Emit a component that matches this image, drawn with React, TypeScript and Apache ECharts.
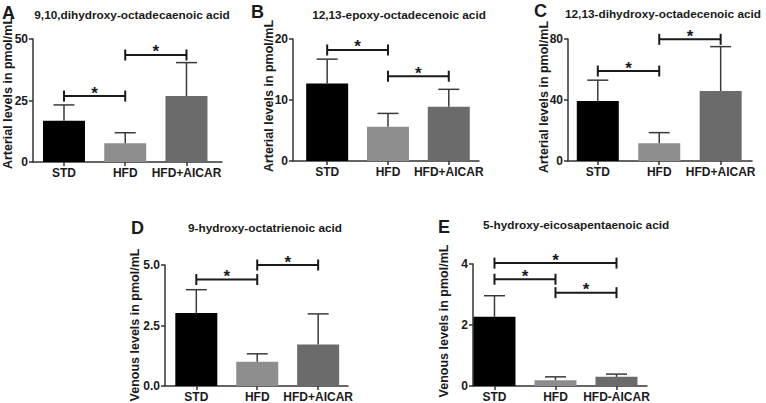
import React, { useEffect, useRef } from "react";
import * as echarts from "echarts";

// ---- data ----
const groupsABCD = ["STD", "HFD", "HFD+AICAR"];
const groupsE = ["STD", "HFD", "HFD-AICAR"];

const meanA = [16.8, 7.6, 26.8];
const errA = [6.4, 4.3, 13.6];
const sigA = [[0, 1, 26.8], [1, 2, 43.5]];

const meanB = [12.7, 5.6, 8.9];
const errB = [4.0, 2.2, 2.85];
const sigB = [[0, 1, 18.2], [1, 2, 13.9]];

const meanC = [39.3, 11.6, 45.9];
const errC = [13.7, 7.0, 29.1];
const sigC = [[0, 1, 59], [1, 2, 79.8]];

const meanD = [3.02, 1.0, 1.72];
const errD = [0.96, 0.33, 1.26];
const sigD = [[0, 1, 4.4], [1, 2, 5.0]];

const meanE = [2.27, 0.19, 0.3];
const errE = [0.69, 0.11, 0.09];
const sigE = [[0, 2, 4.03], [0, 1, 3.5], [1, 2, 3.06]];

const yTicksA = [0, 25, 50];
const yTicksB = [0, 10, 20];
const yTicksC = [0, 40, 80];
const yTicksD = [0, 2.5, 5];
const yTicksE = [0, 2, 4];

const titles = [
  "9,10,dihydroxy-octadecaenoic acid",
  "12,13-epoxy-octadecenoic acid",
  "12,13-dihydroxy-octadecenoic acid",
  "9-hydroxy-octatrienoic acid",
  "5-hydroxy-eicosapentaenoic acid",
];
const letters = ["A", "B", "C", "D", "E"];
const yNames = [
  "Arterial levels in pmol/mL",
  "Arterial levels in pmol/mL",
  "Arterial levels in pmol/mL",
  "Venous levels in pmol/mL",
  "Venous levels in pmol/mL",
];

const barColors = ["#000000", "#8e8e8e", "#6b6b6b"];
const FONT = '"Liberation Sans", Arial, Helvetica, sans-serif';
const INK = "#1a1a1a";

const panels = [
  { cats: groupsABCD, mean: meanA, err: errA, sig: sigA, ticks: yTicksA, dec: 0,
    grid: { left: 33, top: 39, width: 189, height: 123 }, xMin: -0.506, xMax: 2.58,
    letter: { x: 2, y: 13 }, title: { x: 132, y: 15, align: "center" }, yName: { x: 8, y: 93 } },
  { cats: groupsABCD, mean: meanB, err: errB, sig: sigB, ticks: yTicksB, dec: 0,
    grid: { left: 293, top: 39, width: 186, height: 122 }, xMin: -0.562, xMax: 2.497,
    letter: { x: 251, y: 12 }, title: { x: 399, y: 15, align: "center" }, yName: { x: 269, y: 96 } },
  { cats: groupsABCD, mean: meanC, err: errC, sig: sigC, ticks: yTicksC, dec: 0,
    grid: { left: 568, top: 39, width: 184, height: 122 }, xMin: -0.485, xMax: 2.51,
    letter: { x: 534, y: 11 }, title: { x: 663, y: 14, align: "center" }, yName: { x: 544, y: 97 } },
  { cats: groupsABCD, mean: meanD, err: errD, sig: sigD, ticks: yTicksD, dec: 1,
    grid: { left: 165, top: 265, width: 183, height: 122 }, xMin: -0.514, xMax: 2.49,
    letter: { x: 131, y: 228 }, title: { x: 265, y: 228, align: "center" }, yName: { x: 135, y: 325 } },
  { cats: groupsE, mean: meanE, err: errE, sig: sigE, ticks: yTicksE, dec: 0,
    grid: { left: 473, top: 264, width: 174, height: 122 }, xMin: -0.352, xMax: 2.5,
    letter: { x: 438, y: 227 }, title: { x: 483, y: 225, align: "left" }, yName: { x: 444, y: 321 } },
];

function errorRender(params: any, api: any) {
  const x = api.value(0);
  const m = api.value(1);
  const u = api.value(2);
  const p0 = api.coord([x, m]);
  const p1 = api.coord([x, u]);
  const st = { stroke: "#3a3a3a", lineWidth: 1.5 };
  return {
    type: "group",
    children: [
      { type: "line", shape: { x1: p0[0], y1: p0[1], x2: p1[0], y2: p1[1] }, style: st },
      { type: "line", shape: { x1: p1[0] - 10.5, y1: p1[1], x2: p1[0] + 10.5, y2: p1[1] }, style: st },
    ],
  };
}

function sigRender(params: any, api: any) {
  const a = api.coord([api.value(0), api.value(2)]);
  const b = api.coord([api.value(1), api.value(2)]);
  const st = { stroke: INK, lineWidth: 2 };
  return {
    type: "group",
    children: [
      { type: "line", shape: { x1: a[0], y1: a[1], x2: b[0], y2: b[1] }, style: st },
      { type: "line", shape: { x1: a[0], y1: a[1] - 5.5, x2: a[0], y2: a[1] + 5.5 }, style: st },
      { type: "line", shape: { x1: b[0], y1: b[1] - 5.5, x2: b[0], y2: b[1] + 5.5 }, style: st },
      {
        type: "text",
        x: (a[0] + b[0]) / 2,
        y: a[1] - 3,
        style: { text: "*", fill: INK, font: `bold 17px ${FONT}`, align: "center", verticalAlign: "middle" },
      },
    ],
  };
}

export default function App() {
  const ref = useRef<HTMLDivElement>(null);
  useEffect(() => {
    if (!ref.current) return;
    const chart = echarts.init(ref.current, undefined, { renderer: "svg" });
    const grid: any[] = [];
    const xAxis: any[] = [];
    const yAxis: any[] = [];
    const series: any[] = [];
    const graphic: any[] = [];
    panels.forEach((p, i) => {
      grid.push({ ...p.grid, containLabel: false });
      const axisLine = { show: true, onZero: false, lineStyle: { color: "#333", width: 1.5 } };
      const axisTick = { show: true, length: 4, lineStyle: { color: "#333", width: 1.5 } };
      xAxis.push({
        type: "value",
        gridIndex: i,
        min: p.xMin,
        max: p.xMax,
        axisLine,
        axisTick: { ...axisTick, customValues: [0, 1, 2] },
        splitLine: { show: false },
        axisLabel: {
          customValues: [0, 1, 2],
          margin: 5,
          color: INK,
          fontWeight: "bold",
          fontSize: 12,
          fontFamily: FONT,
          formatter: (v: number) => p.cats[Math.round(v)] ?? "",
        },
      });
      const yMax = p.ticks[p.ticks.length - 1];
      yAxis.push({
        type: "value",
        gridIndex: i,
        min: 0,
        max: yMax,
        interval: p.ticks[1] - p.ticks[0],
        axisLine,
        axisTick,
        splitLine: { show: false },
        axisLabel: {
          margin: 5,
          color: INK,
          fontWeight: "bold",
          fontSize: 12,
          fontFamily: FONT,
          formatter: (v: number) => v.toFixed(p.dec),
        },
      });
      series.push({
        type: "bar",
        xAxisIndex: i,
        yAxisIndex: i,
        barWidth: 42,
        silent: true,
        z: 2,
        data: p.mean.map((v, j) => ({ value: [j, v], itemStyle: { color: barColors[j] } })),
      });
      series.push({
        type: "custom",
        xAxisIndex: i,
        yAxisIndex: i,
        z: 3,
        silent: true,
        renderItem: errorRender,
        encode: { x: 0, y: [1, 2] },
        data: p.mean.map((v, j) => [j, v, v + p.err[j]]),
      });
      series.push({
        type: "custom",
        xAxisIndex: i,
        yAxisIndex: i,
        z: 4,
        silent: true,
        renderItem: sigRender,
        encode: { x: [0, 1], y: 2 },
        data: p.sig,
      });
      graphic.push({
        type: "text",
        x: p.letter.x,
        y: p.letter.y,
        style: { text: letters[i], fill: INK, font: `bold 18px ${FONT}`, align: "left", verticalAlign: "middle" },
      });
      graphic.push({
        type: "text",
        x: p.title.x,
        y: p.title.y,
        style: { text: titles[i], fill: INK, font: `bold 11.8px ${FONT}`, align: p.title.align, verticalAlign: "middle" },
      });
      graphic.push({
        type: "text",
        x: p.yName.x,
        y: p.yName.y,
        rotation: Math.PI / 2,
        style: { text: yNames[i], fill: INK, font: `bold 12.5px ${FONT}`, align: "center", verticalAlign: "middle" },
      });
    });
    chart.setOption({
      animation: false,
      backgroundColor: "#ffffff",
      grid,
      xAxis,
      yAxis,
      series,
      graphic,
    });
    return () => chart.dispose();
  }, []);
  return (
    <div
      ref={ref}
      style={{ position: "fixed", left: 0, top: 0, width: 766, height: 403, background: "#fff" }}
    />
  );
}
